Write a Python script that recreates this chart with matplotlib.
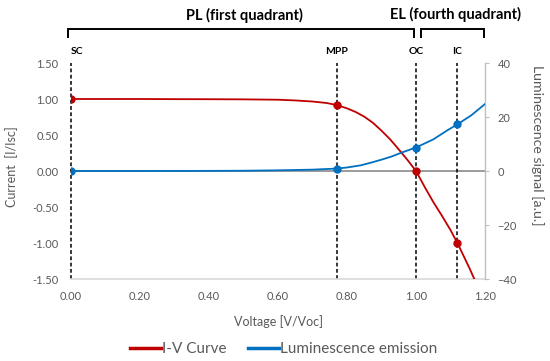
"""I-V curve and luminescence signal of a solar cell vs normalised voltage."""

import matplotlib
matplotlib.use("Agg")
from matplotlib import pyplot as plt
from matplotlib.lines import Line2D
from matplotlib.ticker import FormatStrFormatter

plt.rcParams['font.family'] = ['Lato', 'DejaVu Sans']

# I-V curve (left axis, I/Isc)
iv_v = [0.0, 0.10, 0.20, 0.30, 0.40, 0.50, 0.60, 0.65, 0.70, 0.74, 0.77, 0.80,
        0.825, 0.85, 0.875, 0.90, 0.925, 0.95, 0.975, 1.00, 1.025, 1.05, 1.075,
        1.10, 1.12, 1.14, 1.155, 1.169]
iv_i = [1.00, 1.00, 1.00, 0.998, 0.997, 0.995, 0.99, 0.98, 0.965, 0.945, 0.917, 0.87,
        0.82, 0.755, 0.67, 0.56, 0.44, 0.30, 0.155, 0.0, -0.22, -0.43, -0.62,
        -0.82, -1.0, -1.2, -1.35, -1.50]

# luminescence signal (right axis, a.u.)
lum_v = [0.0, 0.20, 0.40, 0.50, 0.60, 0.70, 0.77, 0.80, 0.84, 0.87, 0.90, 0.93,
         0.96, 1.00, 1.05, 1.09, 1.12, 1.16, 1.20]
lum_s = [0.0, 0.0, 0.05, 0.1, 0.25, 0.5, 0.9, 1.3, 2.1, 3.1, 4.2, 5.4,
         6.9, 8.7, 11.7, 15.0, 17.3, 20.6, 24.8]

# marked operating points
pt_names = ['SC', 'MPP', 'OC', 'IC']
pt_v = [0.0, 0.77, 1.0, 1.12]
pt_i = [1.0, 0.917, 0.0, -1.0]
pt_lum = [0.0, 0.9, 8.7, 17.3]

RED = '#C00000'
BLUE = '#0070C0'
GREY = '#595959'

W, H = 550, 361


def fx(px):
    return px / W


def fy(py):
    return 1 - py / H


fig = plt.figure(figsize=(5.5, 3.61), dpi=100)
ax = fig.add_axes([fx(71), fy(279), fx(485) - fx(71), fy(63) - fy(279)])
ax2 = ax.twinx()

ax.set_xlim(0, 1.2)
ax.set_ylim(-1.5, 1.5)
ax2.set_ylim(-40, 40)

ax.axhline(0, color='#808080', lw=1.1, zorder=1)
for v in pt_v:
    ax.axvline(v, color='black', lw=1.1, ls=(0, (2.5, 1.6)), zorder=2, clip_on=False)

ax.plot(iv_v, iv_i, color=RED, lw=1.3, zorder=4)
ax.plot(pt_v, pt_i, 'o', color=RED, ms=5, zorder=5)
ax2.plot(lum_v, lum_s, color=BLUE, lw=1.3, zorder=4)
ax2.plot(pt_v, pt_lum, 'o', color=BLUE, ms=5, zorder=5)

ax.set_xticks([0, 0.2, 0.4, 0.6, 0.8, 1.0, 1.2])
ax.set_yticks([-1.5, -1.0, -0.5, 0, 0.5, 1.0, 1.5])
ax.xaxis.set_major_formatter(FormatStrFormatter('%.2f'))
ax.yaxis.set_major_formatter(FormatStrFormatter('%.2f'))
ax2.set_yticks([-40, -20, 0, 20, 40])

for a in (ax, ax2):
    for s in a.spines.values():
        s.set_visible(False)
ax.spines['bottom'].set_visible(True)
ax.spines['bottom'].set_color('#d9d9d9')
ax.spines['bottom'].set_linewidth(1.2)
ax2.spines['right'].set_visible(True)
ax2.spines['right'].set_color('#bfbfbf')
ax2.spines['right'].set_linewidth(1.0)

ax.tick_params(axis='x', length=0, pad=9, labelsize=8, labelcolor=GREY)
ax.tick_params(axis='y', length=0, pad=9, labelsize=8, labelcolor=GREY)
ax2.tick_params(axis='y', length=3, width=0.8, color='#bfbfbf', pad=6,
                labelsize=8, labelcolor=GREY)

ax.set_xlabel('Voltage [V/Voc]', fontsize=9, color=GREY, labelpad=9)
fig.text(fx(12), fy(167), 'Current  [I/Isc]', rotation=90, fontsize=9,
         color=GREY, ha='center', va='center')
fig.text(fx(537), fy(145), 'Luminescence signal [a.u.]', rotation=270,
         fontsize=10.2, color=GREY, ha='center', va='center')

# point labels above the dashed lines
for name, v in zip(pt_names, pt_v):
    ha = 'left' if name == 'SC' else 'center'
    ax.text(v, 1.5 + 0.16, name, ha=ha, va='center', fontsize=7.5,
            fontweight='bold', color='black', clip_on=False)

# quadrant brackets
def bracket(x0, x1):
    xs = [fx(x0), fx(x0), fx(x1), fx(x1)]
    ys = [fy(37), fy(29), fy(29), fy(37)]
    fig.add_artist(Line2D(xs, ys, color='black', lw=1.4,
                          solid_joinstyle='miter', transform=fig.transFigure))

bracket(68, 414)
bracket(421, 484)
fig.text(fx(244), fy(15), 'PL (first quadrant)', ha='center', va='center',
         fontsize=10.5, fontweight='bold')
fig.text(fx(455), fy(14), 'EL (fourth quadrant)', ha='center', va='center',
         fontsize=10.5, fontweight='bold')

handles = [Line2D([], [], color=RED, lw=2.5), Line2D([], [], color=BLUE, lw=2.5)]
fig.legend(handles, ['I-V Curve', 'Luminescence emission'], loc='center',
           bbox_to_anchor=(fx(284), fy(349)), ncol=2, frameon=False,
           fontsize=11, labelcolor=GREY, handlelength=2.0, handletextpad=0.1,
           columnspacing=1.4)

fig.savefig('out.png', dpi=100)
